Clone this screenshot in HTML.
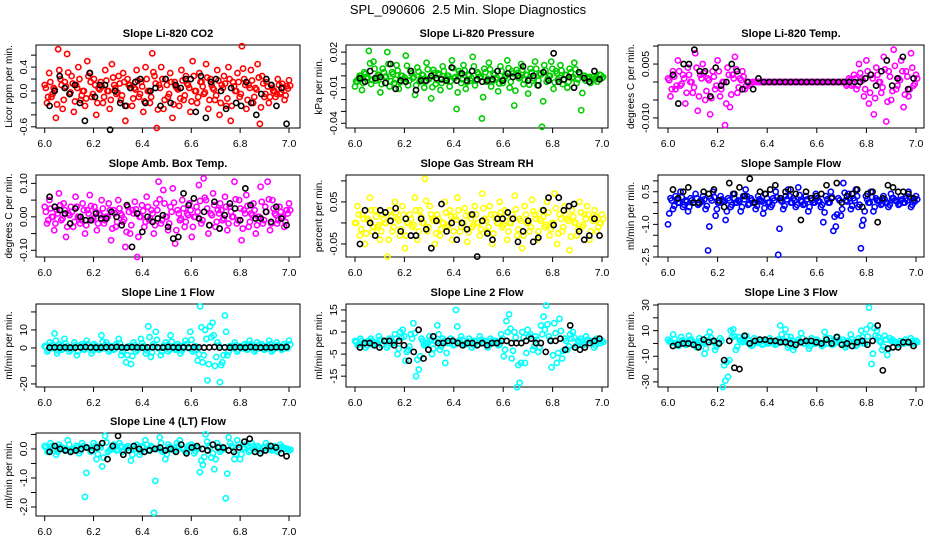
<!DOCTYPE html>
<html><head><meta charset="utf-8">
<style>
html,body{margin:0;padding:0;background:#fff;}
svg{display:block;font-family:"Liberation Sans",Arial,sans-serif;}
</style></head>
<body>
<svg id="chart" width="936" height="540" viewBox="0 0 936 540">
<text x="468" y="14" text-anchor="middle" font-size="13" xml:space="preserve">SPL_090606  2.5 Min. Slope Diagnostics</text>
</svg>
<script>
// ---- data ----
const xTicks = [6.0, 6.2, 6.4, 6.6, 6.8, 7.0];
const xTickLabels = ["6.0","6.2","6.4","6.6","6.8","7.0"];

const co2Color = [0.1,-0.2,0.3,-0.1,0.05,-0.45,0.7,0.2,-0.3,0.15,0.62,-0.05,0.25,-0.35,0.1,0.4,-0.15,0.0,-0.25,0.5,0.3,-0.1,0.2,-0.4,0.05,0.15,-0.2,0.35,0.0,-0.3,0.45,0.1,-0.05,0.25,-0.15,0.3,-0.5,0.2,0.1,-0.25,0.05,0.35,-0.1,0.15,-0.35,0.4,0.0,-0.2,0.63,0.25,-0.62,0.1,0.4,-0.3,0.2,-0.1,0.3,-0.45,0.15,0.05,-0.25,0.35,-0.15,0.25,0.1,-0.35,0.5,0.0,-0.2,0.3,0.15,-0.05,0.45,-0.3,0.2,0.05,-0.15,0.35,-0.4,0.1,0.25,-0.25,0.4,-0.5,0.15,0.0,0.3,-0.1,0.75,0.2,-0.3,0.1,0.35,-0.2,0.05,0.45,-0.55,0.25,-0.1,0.15,-0.2,0.1,0.0,-0.1,0.2,-0.05,0.12,-0.15,0.08,0.18];
const co2Black = [-0.25,0.0,0.25,0.05,-0.05,0.1,-0.2,-0.5,0.3,-0.1,0.1,0.1,-0.65,0.0,-0.2,-0.25,0.05,0.15,0.2,-0.2,0.0,0.05,-0.25,0.2,-0.2,0.1,0.05,0.2,0.2,-0.35,0.25,-0.45,0.15,0.2,0.0,-0.3,0.05,-0.2,-0.25,0.15,-0.2,-0.4,-0.05,0.2,0.1,-0.25,0.05,-0.55];

const presColor = [-0.009,-0.005,0.0,-0.012,0.003,-0.002,0.021,-0.007,0.012,-0.004,0.001,-0.014,0.006,-0.001,0.02,-0.009,0.003,-0.006,0.009,-0.011,0.0,-0.003,0.017,-0.008,0.004,-0.002,-0.016,0.007,-0.005,0.001,-0.01,0.011,-0.003,-0.019,0.005,-0.007,0.002,-0.012,0.008,-0.004,0.0,-0.009,0.013,-0.002,-0.028,0.004,-0.006,0.009,-0.011,0.001,-0.004,0.016,-0.008,0.003,-0.001,-0.036,0.006,-0.005,0.011,-0.009,0.002,-0.003,-0.013,0.008,-0.006,0.0,0.013,-0.01,0.004,-0.025,0.005,-0.002,0.01,-0.007,0.001,-0.015,0.006,-0.004,0.012,-0.008,0.002,-0.043,0.009,-0.005,0.0,0.012,-0.011,0.004,-0.003,0.009,-0.007,0.001,-0.01,0.006,-0.002,0.011,-0.006,0.003,-0.029,0.0,-0.004,-0.002,-0.006,-0.001,-0.003,-0.005,0.001,-0.002];
const presBlack = [-0.002,-0.005,0.004,-0.002,-0.001,-0.006,0.01,-0.011,-0.004,-0.005,0.004,-0.012,-0.004,-0.004,0.0,-0.002,-0.003,-0.004,0.007,-0.004,0.002,-0.004,0.004,-0.003,-0.005,-0.004,-0.003,0.004,-0.004,0.002,-0.001,0.0,0.008,-0.004,0.0,-0.008,0.003,-0.004,0.019,-0.005,-0.003,-0.001,-0.01,0.003,-0.002,-0.005,0.004,-0.003];

const tempColor = [0.001,-0.004,0.003,-0.002,0.006,-0.001,0.002,-0.006,0.004,0.0,-0.003,0.008,-0.008,0.002,0.005,-0.005,0.001,-0.009,0.003,-0.002,0.006,-0.004,0.0,-0.012,0.004,-0.007,0.002,0.007,-0.003,0.001,0.003,-0.002,0.0,-0.001,0.0,0.0,0.0,0.0,0.0,0.0,0.0,0.0,0.0,0.0,0.0,0.0,0.0,0.0,0.0,0.0,0.0,0.0,0.0,0.0,0.0,0.0,0.0,0.0,0.0,0.0,0.0,0.0,0.0,0.0,0.0,0.0,0.0,0.0,0.0,0.0,0.0,0.0,-0.001,0.001,-0.001,0.002,-0.002,0.005,0.001,-0.004,0.006,-0.006,0.002,-0.009,0.004,0.0,-0.003,0.007,-0.011,0.003,-0.005,0.009,-0.002,0.001,0.006,-0.007,0.003,-0.004,0.008,-0.001,0.002];
const tempBlack = [0.002,-0.006,0.005,0.005,0.009,0.003,0.003,-0.004,0.004,-0.001,0.0,0.005,0.003,-0.002,0.0,-0.002,0.001,0.0,0.0,0.0,0.0,0.0,0.0,0.0,0.0,0.0,0.0,0.0,0.0,0.0,0.0,0.0,0.0,0.0,0.0,0.0,0.001,0.002,-0.001,0.003,0.006,-0.001,0.001,0.007,-0.002,0.001];

const ambColor = [0.03,-0.02,0.05,0.0,-0.04,0.02,0.07,-0.01,0.04,-0.06,0.01,0.03,-0.03,0.06,0.0,-0.02,0.04,-0.05,0.02,0.065,-0.01,0.03,-0.04,0.01,0.05,-0.02,0.0,0.04,-0.07,0.02,-0.03,0.05,0.01,-0.015,-0.09,0.03,-0.05,0.02,0.045,-0.12,0.0,0.035,-0.03,0.06,-0.01,0.02,-0.05,0.04,0.105,-0.02,0.08,0.0,-0.04,0.03,0.085,-0.08,0.02,-0.01,0.05,-0.03,0.01,0.04,-0.06,0.0,0.03,0.095,-0.02,0.115,0.05,-0.05,0.01,0.07,-0.03,0.02,0.04,-0.01,0.06,-0.04,0.03,0.0,0.105,-0.02,0.05,-0.07,0.02,0.065,-0.03,0.01,0.04,-0.05,0.0,0.09,-0.02,0.03,0.105,-0.04,0.05,0.01,-0.02,0.03,0.0,-0.03,0.02,0.04];
const ambBlack = [0.06,0.03,0.02,0.01,-0.02,0.025,0.0,-0.01,-0.01,0.01,-0.005,-0.005,0.015,0.0,-0.025,0.035,-0.09,0.01,-0.045,0.0,-0.015,-0.005,0.005,-0.03,-0.065,-0.06,0.07,0.035,0.055,-0.005,0.015,-0.025,0.045,-0.035,0.005,0.04,0.025,-0.01,0.085,0.035,-0.005,-0.005,0.015,-0.015,0.03,-0.005,-0.025];

const rhColor = [0.0,0.04,-0.03,0.02,-0.05,0.01,0.06,-0.02,0.03,-0.01,-0.04,0.02,0.0,-0.08,0.03,-0.02,0.05,0.01,-0.03,0.04,-0.06,0.0,0.02,-0.01,0.06,-0.04,0.03,0.0,0.105,-0.02,0.04,0.01,-0.05,0.02,-0.03,0.0,0.05,-0.01,0.03,-0.04,0.015,0.06,-0.02,0.0,0.035,-0.045,0.02,-0.01,0.04,0.0,-0.03,0.07,0.01,-0.02,0.04,-0.05,0.02,0.0,0.05,-0.01,0.03,-0.04,0.0,0.02,0.065,-0.03,0.01,-0.06,0.04,0.0,-0.02,0.055,0.02,-0.04,0.01,0.03,-0.01,0.05,-0.03,0.0,0.07,-0.05,0.02,-0.02,0.04,0.01,-0.065,0.03,0.0,-0.03,0.05,-0.01,0.02,0.04,-0.04,0.01,0.03,-0.02,0.0,0.02];
const rhBlack = [-0.05,0.03,0.0,-0.03,0.03,0.025,0.005,0.035,-0.02,0.01,-0.03,-0.03,0.01,-0.015,-0.06,0.005,0.045,-0.02,0.0,-0.04,0.0,-0.015,0.02,-0.08,0.005,-0.025,-0.04,0.01,0.01,0.025,0.01,-0.045,-0.02,0.005,-0.045,-0.035,0.03,0.06,-0.005,0.06,0.03,0.04,0.045,-0.02,-0.04,-0.03,0.01,-0.03];

const flowColor = [-1.0,0.2,-0.3,0.3,0.0,0.5,-0.2,0.1,-0.4,0.2,0.0,0.4,-0.1,0.1,0.3,-0.3,-2.2,0.2,0.5,-0.6,0.0,0.3,0.1,-0.8,0.2,-0.2,0.4,0.0,0.1,-0.4,0.3,0.6,-0.1,0.2,0.0,-0.3,0.3,0.1,-0.5,0.4,0.0,-0.2,0.2,0.5,-2.4,0.1,-0.3,0.3,0.6,0.0,0.2,-0.2,0.7,0.1,-0.1,0.3,-0.4,0.2,0.0,0.4,0.1,-0.2,-0.9,0.3,0.0,0.5,-1.3,-1.1,0.2,-0.6,0.9,0.1,0.4,-0.3,0.2,0.6,-0.2,-2.1,-0.8,0.3,0.0,0.5,-0.4,0.2,0.1,-0.1,0.3,0.0,-0.2,0.4,0.2,0.1,-0.1,0.3,0.0,0.2,0.5,-0.2,0.1,0.3];
const flowBlack = [0.6,0.2,0.5,0.7,0.0,0.0,0.5,0.4,0.6,0.1,-0.2,0.9,0.4,0.7,0.3,1.1,0.0,0.5,0.4,0.6,0.8,0.2,0.5,0.6,0.4,-0.8,0.5,0.2,0.3,0.4,0.8,0.2,0.9,0.0,0.3,0.4,0.6,-0.2,0.4,0.5,-0.9,0.2,0.8,0.7,0.5,0.5,0.4,0.2];

const l1Color = [1,-2,3,0,8,-3,2,-1,5,1,-2,0,3,-4,1,2,-1,4,0,-3,2,1,-1,7,0,3,-2,1,-1,2,5,-4,0,-8,1,-9,3,-2,0,5,1,-3,12,-5,2,9,0,-4,1,3,-2,7,0,-1,2,-3,1,4,0,9,-2,1,-7,23,-8,10,-18,12,14,-10,3,-19,-8,18,-4,1,0,3,-2,1,0,2,-1,4,1,-2,3,0,2,-1,1,4,-2,0,3,1,-1,2,0,4];
const l1Black = [0.2,0.3,0.2,0.3,0.2,0.2,0.3,0.5,0.3,0.2,0.2,0.4,0.3,0.5,0.3,0.2,0.4,0.3,0.2,0.3,0.4,0.3,0.2,0.5,0.3,0.2,0.3,0.2,0.4,0.3,0.2,0.3,0.5,0.2,0.3,0.2,0.4,0.3,0.2,0.5,0.3,0.2,0.3,0.2,0.4,0.3,0.5];

const l2Color = [1,-1,2,0,-2,1,2,-1,0,3,-1,1,-2,2,0,4,-5,5,6,-8,-3,4,9,-15,-12,2,-1,0,3,-5,1,8,-3,2,-9,0,2,-1,15,1,3,-1,0,2,-2,1,-1,3,0,1,-2,2,0,1,-1,4,-6,10,13,-7,5,-20,-18,5,-9,6,4,-3,3,-4,8,12,17,3,-11,9,-9,11,-7,2,-3,4,5,-2,1,2,-1,3,0,1,-2,2,0,1];
const l2Black = [-2,0,0,-1,-2,1,1,-1,1,-1,-8,-4,6,-7,-3,3,0,0,1,1,0,-1,0,0,-1,0,-1,0,0,1,1,0,0,0,1,2,0,0,-4,1,1,2,-3,8,-2,-3,-2,0,1,2];

const l3Color = [3,1,7,0,-2,5,2,-1,6,3,0,-3,4,1,-8,5,9,2,-5,0,4,-34,-29,-26,10,11,-5,5,2,3,6,0,-2,4,1,3,-1,2,0,4,1,-1,3,14,2,11,-3,5,-5,1,3,8,0,2,-4,4,0,3,1,-2,9,0,4,-1,2,5,0,3,-3,2,7,1,-2,4,10,0,11,28,-16,12,10,2,-5,6,-9,4,3,1,-1,2,0,3,1,4,0,2];
const l3Black = [-2,-1,0,0,-1,-3,3,1,2,0,-13,2,-19,-20,6,0,2,3,3,2,2,1,1,0,-1,1,2,2,1,0,3,0,5,-1,0,-2,1,2,-1,2,14,-21,-4,-3,-3,1,1,-2];

const l4Color = [0.1,-0.1,0.2,0.0,-0.2,0.15,0.05,-0.05,0.3,-0.1,0.0,0.1,-0.15,0.2,-1.65,0.05,-0.1,0.2,-0.35,0.1,-0.6,0.45,-0.1,0.0,0.15,-0.05,0.2,-0.1,0.05,0.1,-0.4,0.0,0.15,-0.2,0.1,0.3,-0.05,0.1,-2.2,0.0,0.4,-0.1,-0.35,0.15,0.05,-0.05,0.2,0.3,0.0,-0.1,0.1,0.15,-0.15,0.05,-0.8,-0.55,0.5,0.1,-0.3,-0.7,0.2,-0.1,0.0,-1.7,0.4,0.1,-0.35,0.3,-0.35,0.05,0.15,-0.1,0.2,0.0,0.1,-0.15,0.05,0.2,0.0,-0.05,0.1,-0.1,0.15,0.05,0.0,-0.05];
const l4Black = [-0.1,0.1,0.0,-0.05,-0.1,-0.05,0.0,0.05,-0.05,0.05,0.2,-0.35,0.1,0.45,-0.2,-0.05,0.1,0.0,-0.1,-0.05,0.0,0.05,-0.05,0.0,-0.1,0.15,-0.15,0.05,0.1,0.0,-0.05,0.15,0.05,0.05,-0.05,-0.1,0.05,0.25,0.35,-0.1,-0.15,-0.05,0.1,0.05,-0.15,-0.25];

// ---- layout ----
const colL=[36,346,658], colR=[300,608,924], colX0=[44.7,355,668], colX1=[289,602,916];
const rowT=[45,175,304,433], rowB=[128,257,387,516];

const panels = [
 {title:"Slope Li-820 CO2", yl:"Licor ppm per min.", c:0,r:0, ylim:[-0.62,0.77], ticks:[-0.6,-0.4,-0.2,0,0.2,0.4,0.6], lab:[[-0.6,"-0.6"],[0,"0.0"],[0.4,"0.4"]], col:"#ff0000", cd:co2Color, bd:co2Black},
 {title:"Slope Li-820 Pressure", yl:"kPa per min.", c:1,r:0, ylim:[-0.044,0.026], ticks:[-0.04,-0.03,-0.02,-0.01,0,0.01,0.02], lab:[[-0.04,"-0.04"],[-0.01,"-0.01"],[0.02,"0.02"]], col:"#00cc00", cd:presColor, bd:presBlack},
 {title:"Slope Li-820 Temp.", yl:"degrees C per min.", c:2,r:0, ylim:[-0.0128,0.0103], ticks:[-0.01,-0.005,0,0.005,0.01], lab:[[-0.01,"-0.010"],[0.005,"0.005"]], col:"#ff00ff", cd:tempColor, bd:tempBlack},
 {title:"Slope Amb. Box Temp.", yl:"degrees C per min.", c:0,r:1, ylim:[-0.12,0.125], ticks:[-0.1,-0.05,0,0.05,0.1], lab:[[-0.1,"-0.10"],[0,"0.00"],[0.1,"0.10"]], col:"#ff00ff", cd:ambColor, bd:ambBlack},
 {title:"Slope Gas Stream RH", yl:"percent per min.", c:1,r:1, ylim:[-0.081,0.114], ticks:[-0.05,0,0.05,0.1], lab:[[-0.05,"-0.05"],[0.05,"0.05"]], col:"#ffff00", cd:rhColor, bd:rhBlack},
 {title:"Slope Sample Flow", yl:"ml/min per min.", c:2,r:1, ylim:[-2.5,1.27], ticks:[-2.5,-2,-1.5,-1,-0.5,0,0.5,1], lab:[[-2.5,"-2.5"],[-1,"-1.0"],[0.5,"0.5"]], col:"#0000ff", cd:flowColor, bd:flowBlack},
 {title:"Slope Line 1 Flow", yl:"ml/min per min.", c:0,r:2, ylim:[-21.7,24.4], ticks:[-20,-10,0,10,20], lab:[[-20,"-20"],[0,"0"],[10,"10"]], col:"#00ffff", cd:l1Color, bd:l1Black},
 {title:"Slope Line 2 Flow", yl:"ml/min per min.", c:1,r:2, ylim:[-19.9,17.7], ticks:[-15,-10,-5,0,5,10,15], lab:[[-15,"-15"],[-5,"-5"],[5,"5"],[15,"15"]], col:"#00ffff", cd:l2Color, bd:l2Black},
 {title:"Slope Line 3 Flow", yl:"ml/min per min.", c:2,r:2, ylim:[-34,30.8], ticks:[-30,-20,-10,0,10,20,30], lab:[[-30,"-30"],[-10,"-10"],[10,"10"],[30,"30"]], col:"#00ffff", cd:l3Color, bd:l3Black},
 {title:"Slope Line 4 (LT) Flow", yl:"ml/min per min.", c:0,r:3, ylim:[-2.31,0.55], ticks:[-2,-1.5,-1,-0.5,0,0.5], lab:[[-2,"-2.0"],[-1,"-1.0"],[0,"0.0"]], col:"#00ffff", cd:l4Color, bd:l4Black}
];

const NS="http://www.w3.org/2000/svg";
const svg=document.getElementById('chart');
function mk(tag,attrs,parent){const e=document.createElementNS(NS,tag);for(const k in attrs)e.setAttribute(k,attrs[k]);(parent||svg).appendChild(e);return e;}

panels.forEach((p,pi)=>{
  const L=colL[p.c],R=colR[p.c],T=rowT[p.r],B=rowB[p.r];
  const xs=v=>colX0[p.c]+(v-6)*(colX1[p.c]-colX0[p.c]);
  const ys=v=>B-(v-p.ylim[0])/(p.ylim[1]-p.ylim[0])*(B-T);
  const g=mk('g',{});
  
  
  const t=mk('text',{x:(L+R)/2,y:T-8,'text-anchor':'middle','font-size':11,'font-weight':'bold'},g);
  t.textContent=p.title;
  
  
  const yt=mk('text',{x:0,y:0,'text-anchor':'middle','font-size':10,transform:`translate(${L-24},${(T+B)/2}) rotate(-90)`},g);
  yt.textContent=p.yl;
  
  
  const box=mk('rect',{x:L,y:T,width:R-L,height:B-T,fill:'none',stroke:'#000','stroke-width':1},g);
  
  
  xTicks.forEach((v,i)=>{
    const tk=mk('line',{x1:xs(v),x2:xs(v),y1:B,y2:B+5,stroke:'#000'},g);
    
    
    const tl=mk('text',{x:xs(v),y:B+19,'text-anchor':'middle','font-size':10.5},g);
    tl.textContent=xTickLabels[i];
    
    
  });
  p.ticks.forEach(v=>{
    const tk=mk('line',{x1:L-5,x2:L,y1:ys(v),y2:ys(v),stroke:'#000'},g);
    
    
  });
  p.lab.forEach(([v,s])=>{
    const tl=mk('text',{x:0,y:0,'text-anchor':'middle','font-size':10.5,transform:`translate(${L-9},${ys(v)}) rotate(-90)`},g);
    tl.textContent=s;
    
    
  });
  const n=p.cd.length;
  p.cd.forEach((v,i)=>{
    const c=mk('circle',{cx:xs(6+i/(n-1)),cy:ys(v),r:2.6,fill:'none',stroke:p.col,'stroke-width':1.6},g);
    
    
    const c2=mk('circle',{cx:xs(6+(i+0.5)/(n-1)),cy:ys(v*0.5),r:2.6,fill:'none',stroke:p.col,'stroke-width':1.6},g);
    
    
  });
  const m=p.bd.length;
  p.bd.forEach((v,i)=>{
    const c=mk('circle',{cx:xs(6.02+i*0.97/(m-1)),cy:ys(v),r:2.6,fill:'none',stroke:'#000','stroke-width':1.6},g);
    
    
  });
});
</script>
</body></html>
